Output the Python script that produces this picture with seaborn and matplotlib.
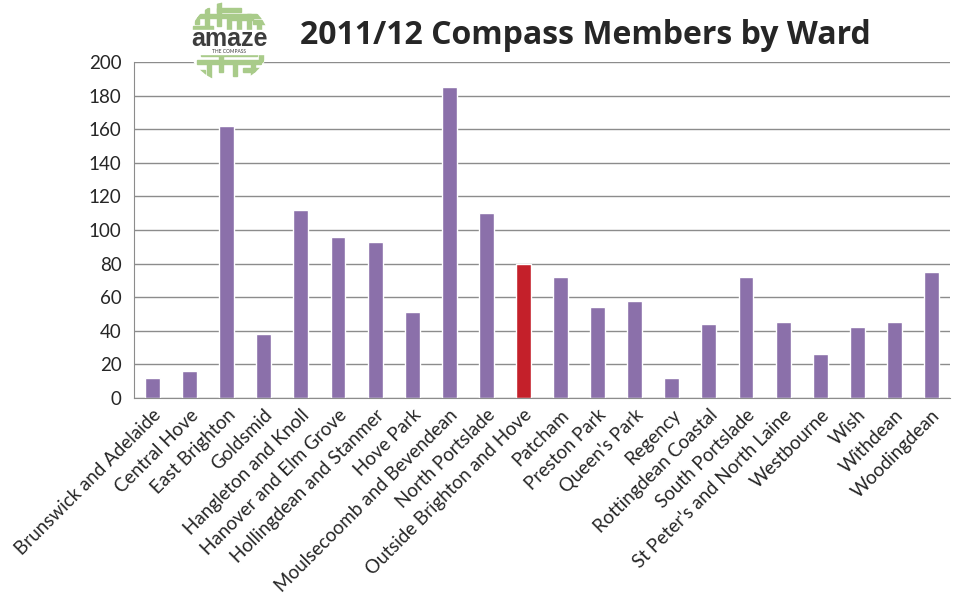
import numpy as np
import pandas as pd
import matplotlib
matplotlib.use("Agg")
import matplotlib.pyplot as plt
import seaborn as sns
from matplotlib.patches import Circle, Rectangle

wards = ["Brunswick and Adelaide", "Central Hove", "East Brighton", "Goldsmid",
         "Hangleton and Knoll", "Hanover and Elm Grove", "Hollingdean and Stanmer",
         "Hove Park", "Moulsecoomb and Bevendean", "North Portslade",
         "Outside Brighton and Hove", "Patcham", "Preston Park", "Queen's Park",
         "Regency", "Rottingdean Coastal", "South Portslade",
         "St Peter's and North Laine", "Westbourne", "Wish", "Withdean", "Woodingdean"]
members = [12, 16, 162, 38, 112, 96, 93, 51, 185, 110, 80, 72, 54, 58, 12, 44, 72,
           45, 26, 42, 45, 75]
highlight = "Outside Brighton and Hove"

purple = "#8B70AA"
red = "#C4202A"

df = pd.DataFrame({"ward": wards, "members": members})
palette = {w: (red if w == highlight else purple) for w in wards}

sns.set_style("white")
plt.rcParams["font.family"] = ["Lato", "DejaVu Sans"]

fig = plt.figure(figsize=(9.57, 5.99), dpi=100)
ax = fig.add_axes([134 / 957, 1 - 398 / 599, (950 - 134) / 957, (398 - 62) / 599])

sns.barplot(data=df, x="ward", y="members", hue="ward", palette=palette,
            width=0.4, legend=False, ax=ax, saturation=1)

ax.set_ylim(0, 200)
ax.set_xlim(-0.5, len(wards) - 0.5)
ax.set_yticks(np.arange(0, 201, 20))
ax.yaxis.grid(True, color="#8c8c8c", linewidth=1)
ax.set_axisbelow(True)
ax.set_xlabel("")
ax.set_ylabel("")

for s in ["top", "right"]:
    ax.spines[s].set_visible(False)
ax.spines["left"].set_color("#8c8c8c")
ax.spines["bottom"].set_color("#8c8c8c")

ax.set_xticks(range(len(wards)))
ax.set_xticklabels(wards, rotation=45, ha="right", rotation_mode="anchor", fontsize=13.5)
ax.tick_params(axis="x", length=0, pad=6)
ax.set_xticks(np.arange(-0.5, len(wards), 1), minor=True)
ax.tick_params(axis="x", which="minor", length=5, color="#8c8c8c", direction="out")
ax.tick_params(axis="y", length=5, color="#8c8c8c", labelsize=13.5, pad=4)

fig.text(0.313, 0.94, "2011/12 Compass Members by Ward", fontsize=23,
         fontweight="bold", ha="left", va="center", family=["Open Sans", "DejaVu Sans"])

# logo
lax = fig.add_axes([189 / 957, 1 - 82 / 599, 80 / 957, 80 / 599])
lax.set_xlim(-1, 1)
lax.set_ylim(-1, 1)
lax.set_aspect("equal")
lax.axis("off")
clip = Circle((0, 0), 1, transform=lax.transData)
lax.add_patch(Circle((0, 0), 1, color="white", zorder=0))
green = "#A9CB8A"
segs = [(-0.8, 0.6, 1.6, 0.1), (-0.6, 0.35, 0.1, 0.5), (-0.3, 0.4, 0.1, 0.6),
        (0.0, 0.55, 0.6, 0.1), (0.2, 0.3, 0.1, 0.3), (0.45, 0.25, 0.1, 0.45),
        (-0.9, 0.3, 0.5, 0.1), (-0.3, 0.75, 0.6, 0.1), (0.6, 0.45, 0.4, 0.1),
        (-0.05, 0.3, 0.1, 0.3), (0.7, 0.25, 0.1, 0.2), (-0.85, 0.45, 0.1, 0.35),
        (-0.8, -0.55, 1.6, 0.1), (-0.55, -0.9, 0.1, 0.4), (-0.25, -0.75, 0.1, 0.5),
        (0.1, -0.85, 0.1, 0.35), (0.35, -0.75, 0.45, 0.1), (-0.7, -0.35, 1.4, 0.08),
        (0.55, -0.95, 0.1, 0.4), (-0.9, -0.8, 0.3, 0.1), (0.75, -0.5, 0.1, 0.2)]
for x0, y0, w, h in segs:
    r = Rectangle((x0, y0), w, h, color=green, zorder=1)
    lax.add_patch(r)
    r.set_clip_path(clip)
lax.add_patch(Rectangle((-1, -0.3), 2, 0.6, color="white", zorder=2))
lax.text(0, 0.08, "amaze", ha="center", va="center", fontsize=18, fontweight="bold",
         color="#3d3d3d", zorder=3, family=["Liberation Sans", "DejaVu Sans"])
lax.text(0, -0.24, "THE COMPASS", ha="center", va="center", fontsize=3.5,
         color="#3d3d3d", zorder=3)

fig.savefig("out.png", dpi=100)
